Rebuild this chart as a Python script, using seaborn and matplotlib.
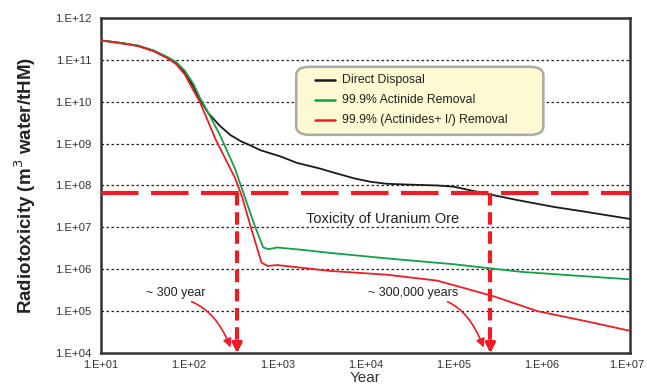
import numpy as np
import pandas as pd
import matplotlib
matplotlib.use("Agg")
import matplotlib.pyplot as plt
import matplotlib.transforms as mtransforms
import seaborn as sns
from matplotlib.patches import FancyBboxPatch

# ---- data (log10 of year, log10 of radiotoxicity) ----
direct_logx = [1.0, 1.2, 1.42, 1.6, 1.75, 1.85, 1.95, 2.05, 2.12, 2.22, 2.35, 2.47, 2.59, 2.7, 2.81,
               3.04, 3.22, 3.49, 3.6, 3.87, 4.05, 4.24, 4.5, 4.81, 5.0, 5.38, 5.7, 6.13, 6.5, 7.0]
direct_logy = [11.46, 11.41, 11.33, 11.21, 11.05, 10.92, 10.7, 10.35, 10.05, 9.72, 9.42, 9.2, 9.05, 8.95, 8.84,
               8.69, 8.54, 8.4, 8.33, 8.17, 8.09, 8.04, 8.02, 8.0, 7.97, 7.8, 7.66, 7.49, 7.37, 7.2]

actinide_logx = [1.0, 1.2, 1.42, 1.6, 1.75, 1.85, 1.95, 2.05, 2.12, 2.2, 2.35, 2.52, 2.63, 2.75, 2.84, 2.9,
                 3.0, 3.3, 3.6, 4.24, 5.0, 5.76, 6.3, 7.0]
actinide_logy = [11.46, 11.41, 11.34, 11.22, 11.07, 10.95, 10.74, 10.42, 10.1, 9.8, 9.2, 8.4, 7.73, 7.0, 6.52, 6.48,
                 6.52, 6.46, 6.39, 6.26, 6.12, 5.94, 5.86, 5.76]

removal_logx = [1.0, 1.2, 1.42, 1.6, 1.75, 1.85, 1.95, 2.04, 2.12, 2.3, 2.52, 2.6, 2.7, 2.82, 2.89,
                3.0, 3.3, 3.6, 4.24, 4.81, 5.12, 5.46, 5.95, 6.5, 7.0]
removal_logy = [11.46, 11.4, 11.33, 11.2, 11.04, 10.9, 10.65, 10.3, 10.0, 9.1, 8.18, 7.73, 7.0, 6.16, 6.08,
                6.1, 6.03, 5.96, 5.87, 5.73, 5.55, 5.35, 5.0, 4.76, 4.53]

series_names = ["Direct Disposal", "99.9% Actinide Removal", "99.9% (Actinides+ I/) Removal"]
series_colors = ["#1a1a1a", "#11a04a", "#ee1c25"]

uranium_ore_level = 6.5e7
crossing_years = [350, 2.6e5]
tick_exps = list(range(4, 13))
xtick_exps = list(range(1, 8))

# ---- build long table ----
frames = []
for name, lx, ly in zip(series_names,
                        [direct_logx, actinide_logx, removal_logx],
                        [direct_logy, actinide_logy, removal_logy]):
    frames.append(pd.DataFrame({"year": 10.0 ** np.array(lx),
                                "tox": 10.0 ** np.array(ly),
                                "series": name}))
df = pd.concat(frames, ignore_index=True)

sns.set_style("white")
plt.rcParams["font.family"] = ["Liberation Sans", "DejaVu Sans"]

fig = plt.figure(figsize=(6.47, 3.88), dpi=100)
ax = fig.add_axes([0.156, 0.090, 0.818, 0.864])
ax.set_xscale("log")
ax.set_yscale("log")

# horizontal grid
for e in tick_exps[1:-1]:
    ax.axhline(10.0 ** e, color="#222222", lw=0.9, ls=(0, (2, 2)), zorder=1)

sns.lineplot(data=df, x="year", y="tox", hue="series", hue_order=series_names,
             palette=series_colors, lw=1.3, ax=ax, legend=False, sort=False,
             estimator=None, zorder=3)

red = "#ee1c25"
# uranium ore line
ax.axhline(uranium_ore_level, color=red, lw=3, dashes=(9, 3), zorder=4)
ax.text(10 ** 4.19, 10 ** 7.2, "Toxicity of Uranium Ore", fontsize=10.5,
        ha="center", va="center", color="#222222")

# vertical dashed arrows
for yr in crossing_years:
    ax.plot([yr, yr], [uranium_ore_level, 1.35e4], color=red, lw=3, dashes=(3, 1.6), zorder=4)
    ax.annotate("", xy=(yr, 1.0e4), xytext=(yr, 1.5e4),
                arrowprops=dict(arrowstyle="-|>,head_length=0.55,head_width=0.28",
                                color=red, lw=2.5, shrinkA=0, shrinkB=0), zorder=5)

# curved annotation arrows
ax.text(10 ** 1.85, 10 ** 5.43, "~ 300 year", fontsize=9, ha="center", va="center", color="#222222")
ax.annotate("", xy=(10 ** 2.48, 10 ** 4.07), xytext=(10 ** 2.0, 10 ** 5.25),
            arrowprops=dict(arrowstyle="-|>,head_length=0.5,head_width=0.25", color=red, lw=1.2,
                            connectionstyle="angle3,angleA=-20,angleB=-70"))
ax.text(10 ** 4.54, 10 ** 5.43, "~ 300,000 years", fontsize=9, ha="center", va="center", color="#222222")
ax.annotate("", xy=(10 ** 5.35, 10 ** 4.07), xytext=(10 ** 4.9, 10 ** 5.25),
            arrowprops=dict(arrowstyle="-|>,head_length=0.5,head_width=0.25", color=red, lw=1.2,
                            connectionstyle="angle3,angleA=-20,angleB=-70"))

ax.set_xlim(10 ** xtick_exps[0], 10 ** xtick_exps[-1])
ax.set_ylim(10 ** tick_exps[0], 10 ** tick_exps[-1])
ax.set_xticks([10.0 ** e for e in xtick_exps])
ax.set_xticklabels([f"1.E+{e:02d}" for e in xtick_exps], fontsize=7.9, color="#333333")
ax.set_yticks([10.0 ** e for e in tick_exps])
ax.set_yticklabels([f"1.E+{e:02d}" for e in tick_exps], fontsize=8.2, color="#333333")
ax.minorticks_off()
ax.tick_params(axis="y", length=0, pad=7)
ax.tick_params(axis="x", length=0, pad=5)
# nudge last x label so it stays inside the figure
last = ax.get_xticklabels()[-1]
last.set_transform(last.get_transform() + mtransforms.ScaledTranslation(-3 / 100, 0, fig.dpi_scale_trans))
for s in ax.spines.values():
    s.set_color("#333333")
    s.set_linewidth(1.8)

ax.set_xlabel("Year", fontsize=11, labelpad=1, color="#333333")
ax.set_ylabel("Radiotoxicity (m$^3$ water/tHM)", fontsize=13.5, fontweight="bold",
              labelpad=12, color="#222222")

# legend box
box = FancyBboxPatch((0.369, 0.651), 0.467, 0.203, boxstyle="round,pad=0,rounding_size=0.025",
                     transform=ax.transAxes, facecolor="#fdf9d2", edgecolor="#aaaaaa", lw=1.8, zorder=6)
ax.add_patch(box)
for i, (name, col) in enumerate(zip(series_names, series_colors)):
    yy = 0.815 - i * 0.06
    ax.plot([0.405, 0.442], [yy, yy], transform=ax.transAxes, color=col, lw=1.8, zorder=7)
    ax.text(0.456, yy, name, transform=ax.transAxes, fontsize=8.8, va="center", color="#222222", zorder=7)

fig.savefig("out.png", dpi=100)
